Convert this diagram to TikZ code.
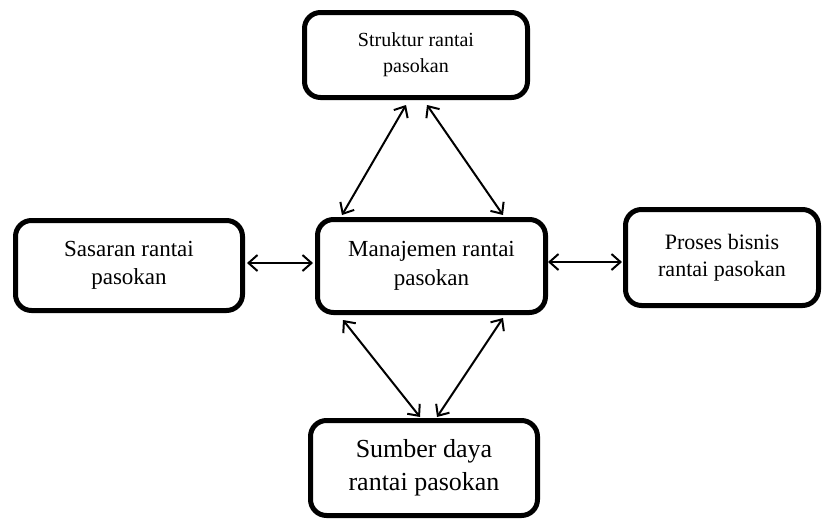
\documentclass[tikz,border=0pt]{standalone}
\usepackage{fontspec}
\setmainfont{Liberation Serif}
\usetikzlibrary{arrows.meta}
\begin{document}
\begin{tikzpicture}[x=1pt,y=-1pt,
  box/.style={draw, line width=5pt, rounded corners=16pt, align=center, inner sep=0pt},
  arr/.style={line width=2pt, >={Straight Barb[length=9pt,width=16pt]}, <->}]
\useasboundingbox (0,0) rectangle (823,520);
\node[box, minimum width=223pt, minimum height=85pt, font=\fontsize{20}{26}\selectfont] (top) at (416,55) {Struktur rantai\\pasokan};
\node[box, minimum width=228pt, minimum height=93pt, font=\fontsize{23}{29}\selectfont] (mid) at (431.5,266) {Manajemen rantai\\pasokan};
\node[box, minimum width=227pt, minimum height=90pt, font=\fontsize{23}{28}\selectfont] (lft) at (129,265.5) {Sasaran rantai\\pasokan};
\node[box, minimum width=193pt, minimum height=96pt, font=\fontsize{22}{27}\selectfont] (rgt) at (722,257.5) {Proses bisnis\\rantai pasokan};
\node[box, minimum width=227pt, minimum height=95pt, font=\fontsize{26}{33}\selectfont] (bot) at (424,468) {Sumber daya\\rantai pasokan};
\draw[arr] ([xshift=-10pt,yshift=-5pt]top.south) -- ([xshift=-89.5pt,yshift=2pt]mid.north);
\draw[arr] ([xshift=11pt,yshift=-5pt]top.south) -- ([xshift=71.5pt,yshift=2pt]mid.north);
\draw[arr] ([xshift=-88.5pt,yshift=-5pt]mid.south) -- ([xshift=-4pt,yshift=1pt]bot.north);
\draw[arr] ([xshift=71.5pt,yshift=-3pt]mid.south) -- ([xshift=13pt,yshift=1pt]bot.north);
\draw[arr] ([xshift=2pt,yshift=2.5pt]lft.east) -- ([xshift=-2pt,yshift=3pt]mid.west);
\draw[arr] ([yshift=4pt]mid.east) -- ([xshift=-1pt,yshift=-4.5pt]rgt.west);
\end{tikzpicture}
\end{document}
